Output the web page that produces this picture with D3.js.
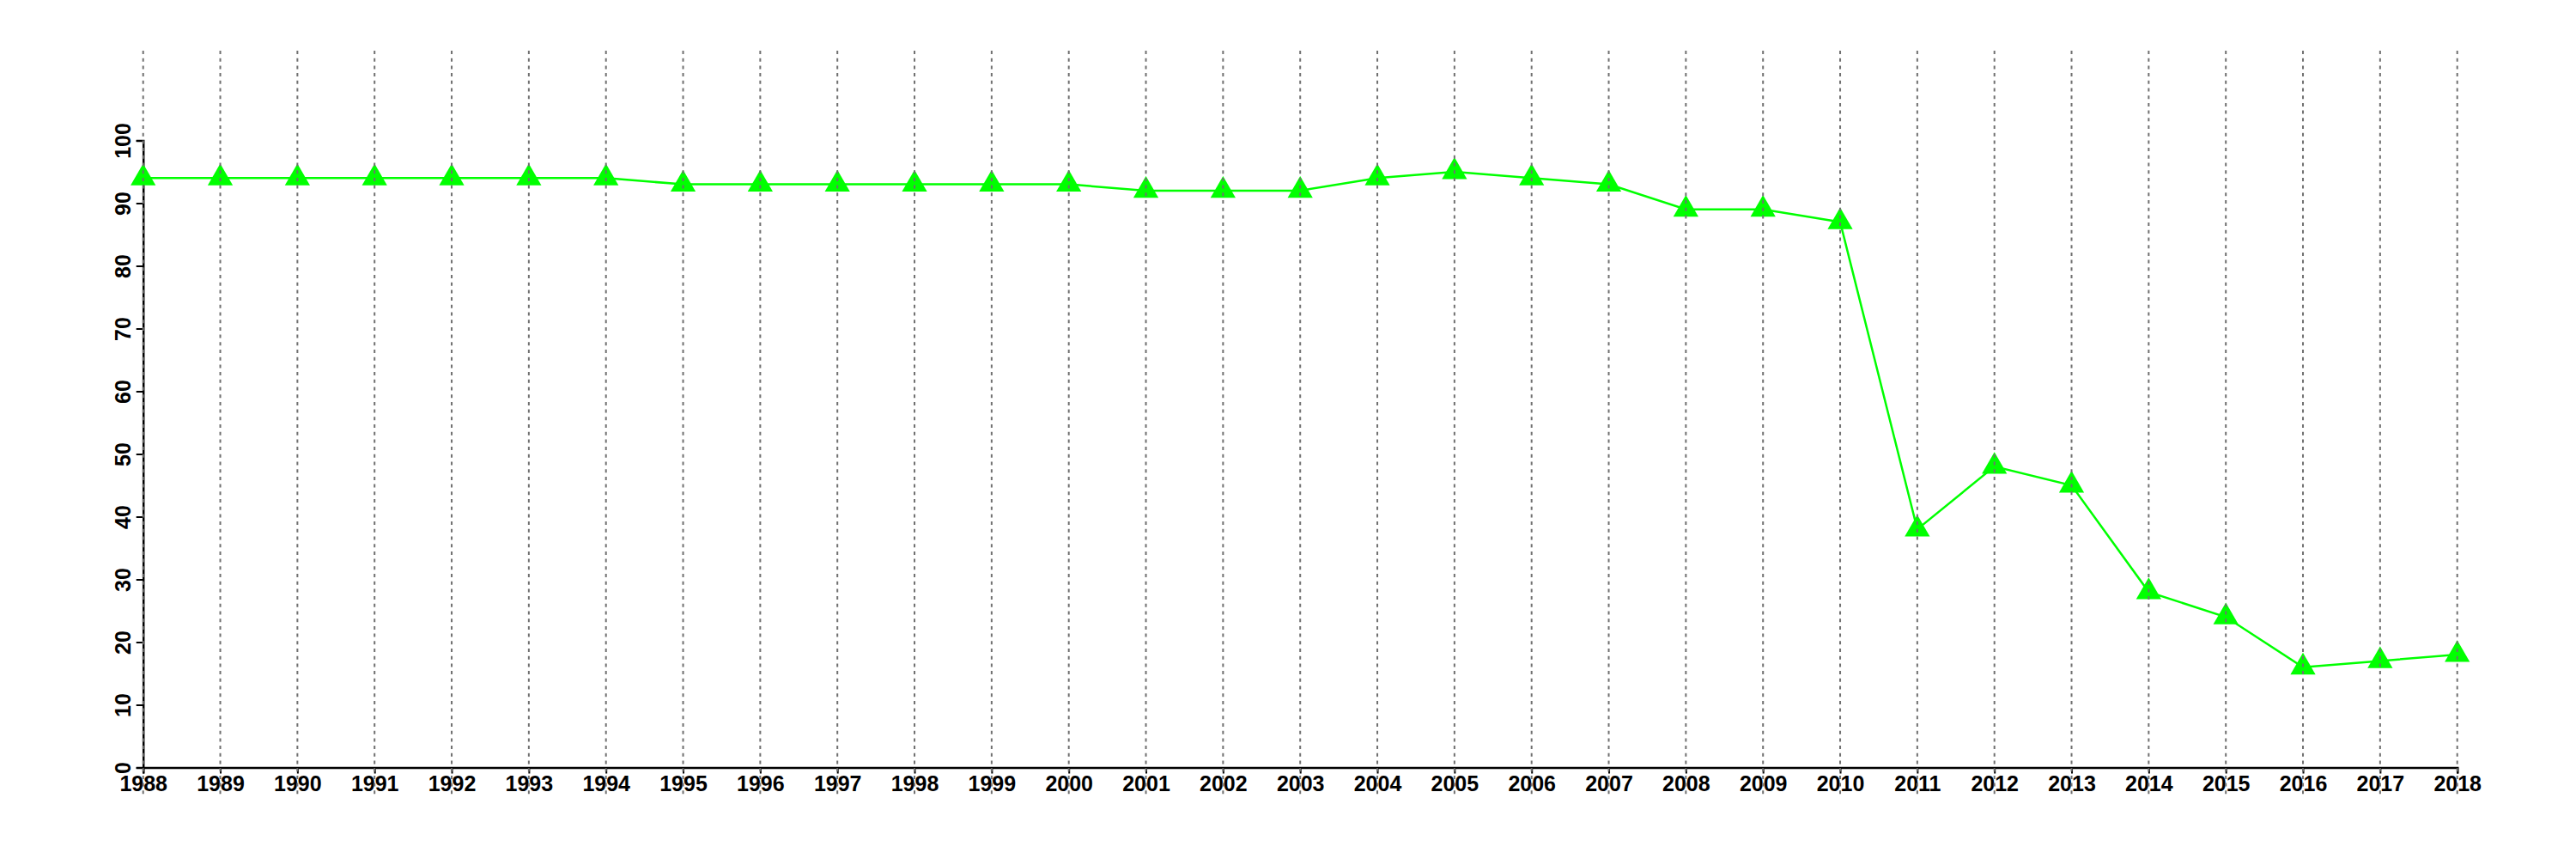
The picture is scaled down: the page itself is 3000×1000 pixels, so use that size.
<!DOCTYPE html>
<html>
<head>
<meta charset="utf-8">
<script src="https://cdn.jsdelivr.net/npm/d3@7"></script>
<style>
  html, body { margin: 0; padding: 0; background: #fff; }
  svg { display: block; }
  text { font-family: "Liberation Sans", Arial, Helvetica, sans-serif; font-weight: bold; }
</style>
</head>
<body>
<script>
const years = [1988,1989,1990,1991,1992,1993,1994,1995,1996,1997,1998,1999,2000,2001,2002,2003,2004,2005,2006,2007,2008,2009,2010,2011,2012,2013,2014,2015,2016,2017,2018];
const values = [94,94,94,94,94,94,94,93,93,93,93,93,93,92,92,92,94,95,94,93,89,89,87,38,48,45,28,24,16,17,18];
const yTicks = [0,10,20,30,40,50,60,70,80,90,100];

const W = 3000, H = 1000;
const svg = d3.select("body").append("svg").attr("width", W).attr("height", H);

const x = d3.scaleLinear().domain([1988, 2018]).range([166.7, 2861.7]);
const y = d3.scaleLinear().domain([0, 100]).range([893.5, 163.5]);

// x axis
const xAxis = d3.axisBottom(x).tickValues(years).tickFormat(d3.format("d")).tickSizeOuter(0).tickSize(7).tickPadding(3);
const gx = svg.append("g").attr("transform", `translate(0,${y(0)})`).call(xAxis);
gx.select(".domain").attr("stroke", "#000").attr("stroke-width", 2.5);
gx.selectAll(".tick line").attr("stroke", "#000").attr("stroke-width", 2);
gx.selectAll(".tick text").attr("font-size", 25).attr("fill", "#000")
  .attr("font-family", "'Liberation Sans', Arial, sans-serif").attr("font-weight", "bold");

// y axis
const yAxis = d3.axisLeft(y).tickValues(yTicks).tickSizeOuter(0).tickSize(8).tickFormat(d3.format("d"));
const gy = svg.append("g").attr("transform", `translate(${x(1988)},0)`).call(yAxis);
gy.select(".domain").attr("stroke", "#000").attr("stroke-width", 2.5);
gy.selectAll(".tick line").attr("stroke", "#000").attr("stroke-width", 2);
gy.selectAll(".tick text")
  .attr("font-size", 25).attr("fill", "#000")
  .attr("font-family", "'Liberation Sans', Arial, sans-serif").attr("font-weight", "bold")
  .attr("x", null).attr("dy", null)
  .attr("text-anchor", "middle")
  .attr("transform", "translate(-15,0) rotate(-90)");

// line
const line = d3.line().x((d, i) => x(years[i])).y(d => y(d));
svg.append("path").datum(values)
  .attr("fill", "none").attr("stroke", "#00ff00").attr("stroke-width", 2.5)
  .attr("d", line);

// markers
const tri = d3.symbol().type(d3.symbolTriangle).size(370);
svg.append("g").selectAll("path").data(values).join("path")
  .attr("d", tri)
  .attr("fill", "#00ff00")
  .attr("transform", (d, i) => `translate(${x(years[i])},${y(d)})`);

// vertical dashed grid (drawn on top)
svg.append("g").selectAll("line").data(years).join("line")
  .attr("x1", d => x(d)).attr("x2", d => x(d))
  .attr("y1", 59).attr("y2", 927)
  .attr("stroke", "#707070").attr("stroke-width", 2)
  .attr("stroke-dasharray", "4,4.7");
</script>
</body>
</html>
